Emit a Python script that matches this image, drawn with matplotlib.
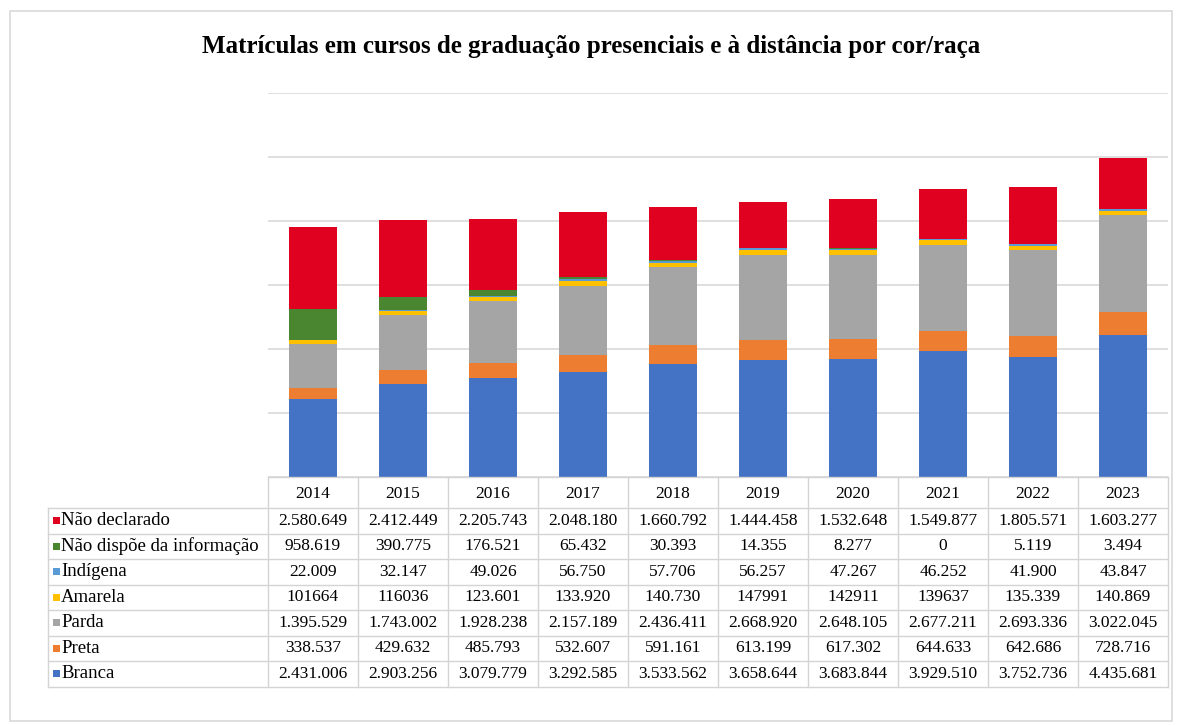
import matplotlib
matplotlib.use('Agg')
import matplotlib.pyplot as plt
from matplotlib.patches import Rectangle
from matplotlib.lines import Line2D
from matplotlib.transforms import blended_transform_factory
import numpy as np

plt.rcParams['font.family'] = ['Liberation Serif', 'DejaVu Serif']

years = ['2014', '2015', '2016', '2017', '2018', '2019', '2020', '2021', '2022', '2023']

# values as printed in the table (thousands separator '.')
nao_declarado = ['2.580.649', '2.412.449', '2.205.743', '2.048.180', '1.660.792',
                 '1.444.458', '1.532.648', '1.549.877', '1.805.571', '1.603.277']
nao_dispoe = ['958.619', '390.775', '176.521', '65.432', '30.393',
              '14.355', '8.277', '0', '5.119', '3.494']
indigena = ['22.009', '32.147', '49.026', '56.750', '57.706',
            '56.257', '47.267', '46.252', '41.900', '43.847']
amarela = ['101664', '116036', '123.601', '133.920', '140.730',
           '147991', '142911', '139637', '135.339', '140.869']
parda = ['1.395.529', '1.743.002', '1.928.238', '2.157.189', '2.436.411',
         '2.668.920', '2.648.105', '2.677.211', '2.693.336', '3.022.045']
preta = ['338.537', '429.632', '485.793', '532.607', '591.161',
         '613.199', '617.302', '644.633', '642.686', '728.716']
branca = ['2.431.006', '2.903.256', '3.079.779', '3.292.585', '3.533.562',
          '3.658.644', '3.683.844', '3.929.510', '3.752.736', '4.435.681']

# bottom to top stacking order
series = [
    ('Branca', branca, '#4472C4'),
    ('Preta', preta, '#ED7D31'),
    ('Parda', parda, '#A5A5A5'),
    ('Amarela', amarela, '#FFC000'),
    ('Indígena', indigena, '#5B9BD5'),
    ('Não dispõe da informação', nao_dispoe, '#4A8530'),
    ('Não declarado', nao_declarado, '#E0001F'),
]


def to_num(s):
    return float(s.replace('.', ''))


W, H = 1182, 725
fig = plt.figure(figsize=(W / 100, H / 100), dpi=100)


def fx(px):
    return px / W


def fy(py):
    return 1 - py / H


ax = fig.add_axes([fx(268), fy(477), fx(1168) - fx(268), fy(93) - fy(477)])
x = np.arange(len(years))
bottom = np.zeros(len(years))
for name, vals, color in series:
    v = np.array([to_num(s) for s in vals])
    ax.bar(x, v, 0.53, bottom=bottom, color=color, zorder=3)
    bottom += v

ax.set_xlim(-0.5, len(years) - 0.5)
ax.set_ylim(0, 12e6)
ax.set_yticks(np.arange(0, 12e6 + 1, 2e6))
ax.set_xticks([])
ax.tick_params(left=False, labelleft=False)
ax.grid(axis='y', color='#D9D9D9', linewidth=1.2, zorder=0)
for sp in ax.spines.values():
    sp.set_visible(False)

fig.text(0.5, fy(47), 'Matrículas em cursos de graduação presenciais e à distância por cor/raça',
         ha='center', va='center', fontsize=18, fontweight='bold')

# outer frame
fig.add_artist(Rectangle((fx(10), fy(721)), fx(1172) - fx(10), fy(11) - fy(721),
                         transform=fig.transFigure, fill=False, edgecolor='#D9D9D9', linewidth=1.2))

# data table below the chart
trans = blended_transform_factory(ax.transData, fig.transFigure)
grid_c = '#D4D4D4'
head_top, head_bot = 477, 508
row_h = 25.5
rows = list(reversed(series))
table_bot = head_bot + row_h * len(rows)
left_px = 48
fs = 12.5

for i, yr in enumerate(years):
    fig.text(i, fy((head_top + head_bot) / 2 + 1), yr, transform=trans,
             ha='center', va='center', fontsize=fs)
for i in range(len(years) + 1):
    fig.add_artist(Line2D([i - 0.5, i - 0.5], [fy(head_top), fy(table_bot)],
                          transform=trans, color=grid_c, linewidth=1))
fig.add_artist(Line2D([-0.5, len(years) - 0.5], [fy(head_top), fy(head_top)],
                      transform=trans, color=grid_c, linewidth=1))
fig.add_artist(Line2D([fx(left_px), fx(left_px)], [fy(head_bot), fy(table_bot)],
                      transform=fig.transFigure, color=grid_c, linewidth=1))

for r, (name, vals, color) in enumerate(rows):
    top = head_bot + r * row_h
    yc = fy(top + row_h / 2)
    fig.add_artist(Line2D([fx(left_px), fx(1168)], [fy(top), fy(top)],
                          transform=fig.transFigure, color=grid_c, linewidth=1))
    fig.add_artist(Rectangle((fx(53), yc - (7 / H) / 2), 7 / W, 7 / H,
                             transform=fig.transFigure, color=color, linewidth=0))
    fig.text(fx(61), yc, name, ha='left', va='center', fontsize=13.5)
    for i, s in enumerate(vals):
        fig.text(i, yc, s, transform=trans, ha='center', va='center', fontsize=fs)
fig.add_artist(Line2D([fx(left_px), fx(1168)], [fy(table_bot), fy(table_bot)],
                      transform=fig.transFigure, color=grid_c, linewidth=1))

fig.savefig('out.png', dpi=100)
